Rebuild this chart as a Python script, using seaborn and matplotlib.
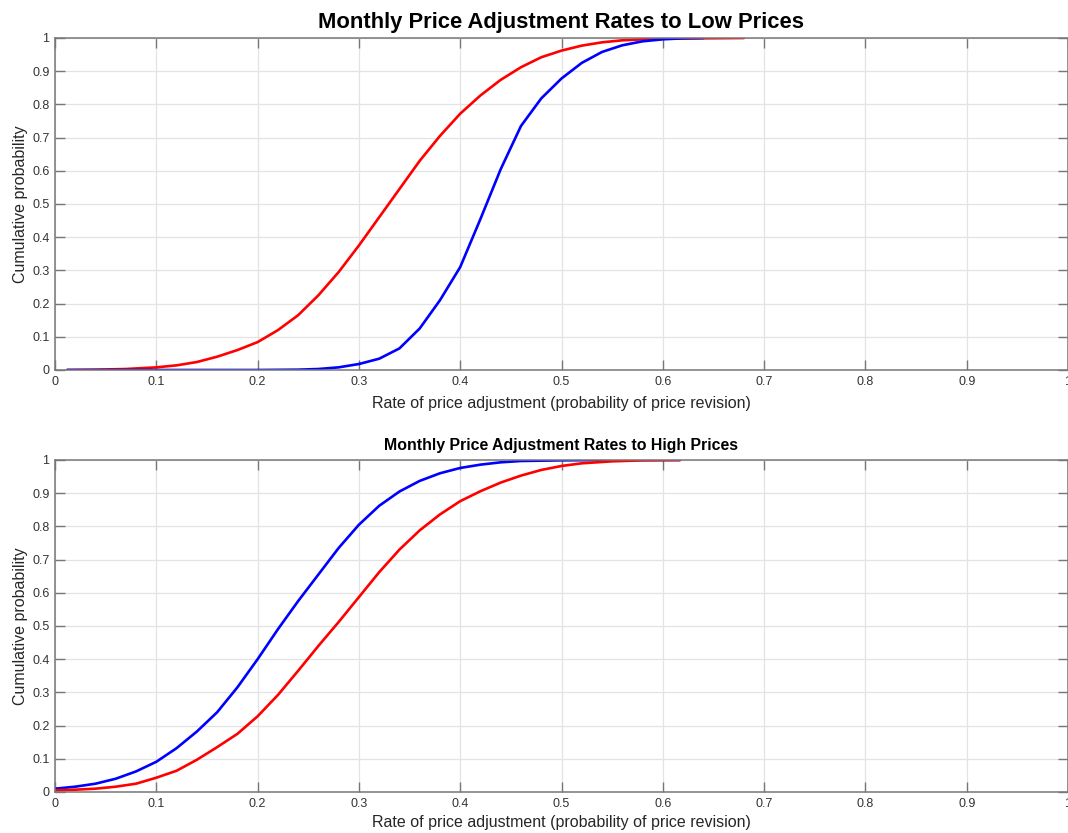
import matplotlib
matplotlib.use("Agg")
import matplotlib.pyplot as plt
import seaborn as sns
import pandas as pd
from matplotlib.ticker import FuncFormatter

# ---- data ----
low_red_x = [0.012, 0.04, 0.07, 0.1, 0.12, 0.14, 0.16, 0.18, 0.2, 0.22, 0.24, 0.26, 0.28,
             0.3, 0.32, 0.34, 0.36, 0.38, 0.4, 0.42, 0.44, 0.46, 0.48, 0.5, 0.52, 0.54,
             0.56, 0.58, 0.6, 0.64, 0.68]
low_red_y = [0.0, 0.001, 0.003, 0.008, 0.014, 0.024, 0.04, 0.06, 0.084, 0.12, 0.165, 0.225,
             0.295, 0.375, 0.46, 0.545, 0.63, 0.705, 0.772, 0.827, 0.874, 0.912, 0.942,
             0.962, 0.977, 0.987, 0.993, 0.996, 0.998, 0.999, 1.0]

low_blue_x = [0.012, 0.2, 0.24, 0.26, 0.28, 0.3, 0.32, 0.34, 0.36, 0.38, 0.4, 0.42, 0.44,
              0.46, 0.48, 0.5, 0.52, 0.54, 0.56, 0.58, 0.6, 0.62, 0.64]
low_blue_y = [0.0, 0.0, 0.001, 0.003, 0.008, 0.018, 0.034, 0.065, 0.125, 0.21, 0.31, 0.455,
              0.605, 0.735, 0.818, 0.878, 0.925, 0.958, 0.978, 0.99, 0.996, 0.999, 1.0]

high_blue_x = [0.0, 0.02, 0.04, 0.06, 0.08, 0.1, 0.12, 0.14, 0.16, 0.18, 0.2, 0.22, 0.24,
               0.26, 0.28, 0.3, 0.32, 0.34, 0.36, 0.38, 0.4, 0.42, 0.44, 0.46, 0.5, 0.55, 0.617]
high_blue_y = [0.01, 0.016, 0.025, 0.04, 0.062, 0.091, 0.132, 0.182, 0.24, 0.315, 0.40, 0.49,
               0.575, 0.655, 0.735, 0.805, 0.862, 0.905, 0.937, 0.96, 0.976, 0.986, 0.993,
               0.997, 0.999, 1.0, 1.0]

high_red_x = [0.0, 0.02, 0.04, 0.06, 0.08, 0.1, 0.12, 0.14, 0.16, 0.18, 0.2, 0.22, 0.24,
              0.26, 0.28, 0.3, 0.32, 0.34, 0.36, 0.38, 0.4, 0.42, 0.44, 0.46, 0.48, 0.5,
              0.52, 0.55, 0.58, 0.617]
high_red_y = [0.005, 0.007, 0.01, 0.016, 0.025, 0.043, 0.064, 0.097, 0.135, 0.175, 0.228,
              0.292, 0.365, 0.44, 0.512, 0.587, 0.662, 0.73, 0.788, 0.836, 0.876, 0.906,
              0.932, 0.953, 0.97, 0.982, 0.99, 0.996, 0.999, 1.0]

titles = ["Monthly Price Adjustment Rates to Low Prices",
          "Monthly Price Adjustment Rates to High Prices"]
xlabel = "Rate of price adjustment (probability of price revision)"
ylabel = "Cumulative probability"
ticks = [0, 0.1, 0.2, 0.3, 0.4, 0.5, 0.6, 0.7, 0.8, 0.9, 1]

sns.set_style("ticks")
plt.rcParams["font.family"] = ["Liberation Sans", "DejaVu Sans"]

fig = plt.figure(figsize=(10.68, 8.33), dpi=100)
W, H = 1068, 833
ax1 = fig.add_axes([55 / W, 1 - 370 / H, (1068 - 55) / W, (370 - 38) / H])
ax2 = fig.add_axes([55 / W, 1 - 792 / H, (1068 - 55) / W, (792 - 460) / H])

panels = [
    (ax1, pd.DataFrame({"x": low_blue_x, "y": low_blue_y}),
     pd.DataFrame({"x": low_red_x, "y": low_red_y}), titles[0], 15.8, ["red", "blue"], 6),
    (ax2, pd.DataFrame({"x": high_blue_x, "y": high_blue_y}),
     pd.DataFrame({"x": high_red_x, "y": high_red_y}), titles[1], 11.4, ["blue", "red"], 4),
]

fmt = FuncFormatter(lambda v, p: f"{v:g}")
for ax, db, dr, title, tsize, order, lp in panels:
    for c in order:
        d = db if c == "blue" else dr
        sns.lineplot(data=d, x="x", y="y", ax=ax, color=c, linewidth=1.9,
                     estimator=None, sort=False)
    ax.set_xlim(0, 1)
    ax.set_ylim(0, 1)
    ax.set_xticks(ticks)
    ax.set_yticks(ticks)
    ax.xaxis.set_major_formatter(fmt)
    ax.yaxis.set_major_formatter(fmt)
    ax.grid(True, color="#e3e3e3", linewidth=0.9)
    ax.set_axisbelow(True)
    for s in ax.spines.values():
        s.set_visible(True)
        s.set_color("#777777")
        s.set_linewidth(1.1)
    ax.tick_params(direction="in", length=7, width=1.0, color="#777777",
                   labelsize=9, labelcolor="#333333", top=True, right=True, pad=4)
    ax.set_title(title, fontsize=tsize, fontweight="bold", color="black", pad=7)
    ax.set_xlabel(xlabel, fontsize=11.5, color="#262626", labelpad=lp)
    ax.set_ylabel(ylabel, fontsize=11.5, color="#262626", labelpad=3)

fig.savefig("out.png", dpi=100)
